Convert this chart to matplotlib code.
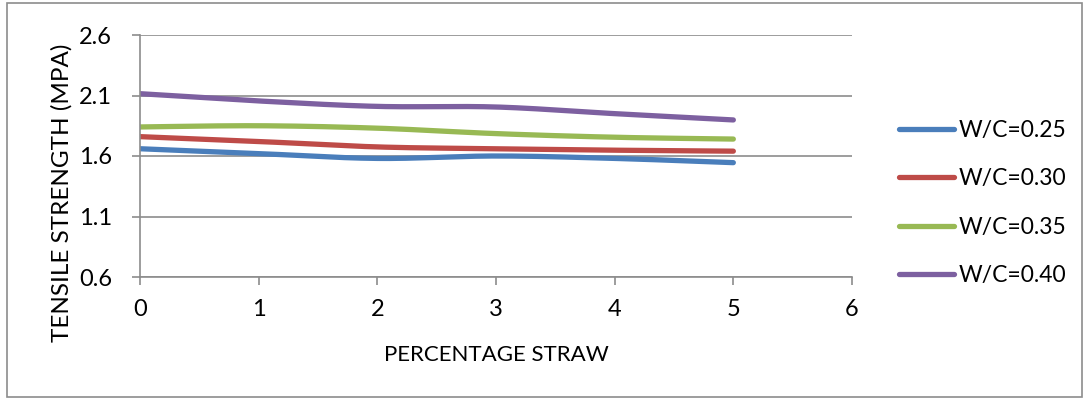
import numpy as np
import matplotlib.pyplot as plt
from matplotlib.patches import Rectangle

# percentage straw vs tensile strength (MPa)
straw = [0, 1, 2, 3, 4, 5]
wc_025 = [1.66, 1.62, 1.58, 1.60, 1.58, 1.545]
wc_030 = [1.76, 1.72, 1.675, 1.66, 1.648, 1.64]
wc_035 = [1.84, 1.85, 1.83, 1.785, 1.755, 1.74]
wc_040 = [2.115, 2.055, 2.01, 2.005, 1.95, 1.898]

labels = ['W/C=0.25', 'W/C=0.30', 'W/C=0.35', 'W/C=0.40']
colors = ['#4A7EBB', '#BE4B48', '#98B954', '#7D60A0']
y_ticks = [0.6, 1.1, 1.6, 2.1, 2.6]
x_ticks = [0, 1, 2, 3, 4, 5, 6]


def smooth(x, y, n=30):
    # Excel-style smoothed line: cubic bezier through points
    x = np.asarray(x, float)
    y = np.asarray(y, float)
    pts = np.column_stack([x, y])
    out = []
    for i in range(len(pts) - 1):
        p0 = pts[max(i - 1, 0)]
        p1 = pts[i]
        p2 = pts[i + 1]
        p3 = pts[min(i + 2, len(pts) - 1)]
        c1 = p1 + (p2 - p0) / 6.0
        c2 = p2 - (p3 - p1) / 6.0
        t = np.linspace(0, 1, n)[:, None]
        seg = ((1 - t) ** 3) * p1 + 3 * ((1 - t) ** 2) * t * c1 \
            + 3 * (1 - t) * t ** 2 * c2 + t ** 3 * p2
        if i > 0:
            seg = seg[1:]
        out.append(seg)
    out = np.vstack(out)
    return out[:, 0], out[:, 1]


plt.rcParams['font.family'] = ['Lato', 'DejaVu Sans']

fig = plt.figure(figsize=(10.89, 4.0), dpi=100)
fig.patches.append(Rectangle((7 / 1089, 3 / 400), 1075 / 1089, 394 / 400,
                             transform=fig.transFigure, fill=False,
                             edgecolor='#8c8c8c', linewidth=1.2))

ax = fig.add_axes([140 / 1089, 1 - 277 / 400, 712 / 1089, 242 / 400])

for vals, lab, col in zip([wc_025, wc_030, wc_035, wc_040], labels, colors):
    xs, ys = smooth(straw, vals)
    ax.plot(xs, ys, color=col, linewidth=3.8, solid_capstyle='round', label=lab)

ax.set_xlim(0, 6)
ax.set_ylim(0.6, 2.6)
ax.set_xticks(x_ticks)
ax.set_yticks(y_ticks)
ax.set_yticklabels(['0.6', '1.1', '1.6', '2.1', '2.6'])
ax.grid(axis='y', color='#8c8c8c', linewidth=1.2)
ax.set_axisbelow(True)

for s in ['top', 'right']:
    ax.spines[s].set_visible(False)
for s in ['left', 'bottom']:
    ax.spines[s].set_color('#8c8c8c')
    ax.spines[s].set_linewidth(1.2)

ax.tick_params(axis='both', colors='#8c8c8c', length=6, width=1.2,
               labelsize=17, labelcolor='black')
ax.tick_params(axis='x', pad=10)
ax.tick_params(axis='y', pad=14)

ax.set_xlabel('PERCENTAGE STRAW', fontsize=16, labelpad=18)
ax.set_ylabel('TENSILE STRENGTH (MPA)', fontsize=17.5)
ax.yaxis.set_label_coords(-0.094, 0.347)

fig.legend(loc='center left', bbox_to_anchor=(878 / 1089, 1 - 203 / 400),
           frameon=False, fontsize=16.5, handlelength=2.4, handletextpad=0.22,
           labelspacing=1.2)

fig.savefig('out.png', dpi=100)
